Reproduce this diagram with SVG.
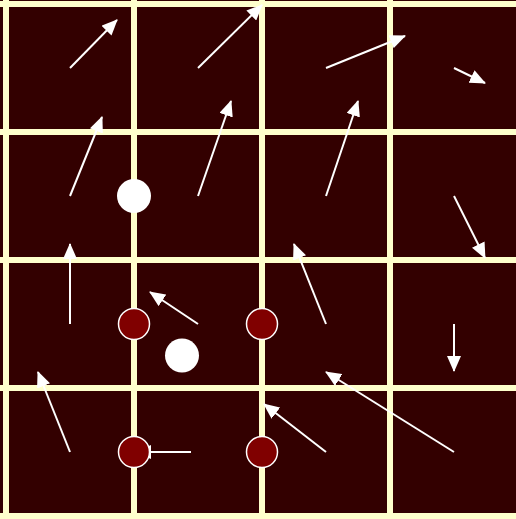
<svg xmlns="http://www.w3.org/2000/svg" width="516" height="519" viewBox="0 0 516 519">
<style>
.grid{stroke:#ffffcc;stroke-width:6;fill:none}
.arr{stroke:#ffffff;stroke-width:2;fill:none;marker-end:url(#ah)}
.white{fill:#ffffff}
.red{fill:#800000;stroke:#ffffff;stroke-width:1.5}
</style>
<defs>
<marker id="ah" markerUnits="userSpaceOnUse" markerWidth="16" markerHeight="14" refX="15" refY="7" orient="auto" viewBox="0 0 16 14">
<path d="M0,0 L16,7 L0,14 z" fill="#ffffff"/>
</marker>
</defs>
<rect width="516" height="519" fill="#330000"/>
<g id="grid" class="grid">
<line x1="6" y1="0" x2="6" y2="519"/>
<line x1="134" y1="0" x2="134" y2="519"/>
<line x1="262" y1="0" x2="262" y2="519"/>
<line x1="390" y1="0" x2="390" y2="519"/>
<line x1="0" y1="4" x2="516" y2="4"/>
<line x1="0" y1="132" x2="516" y2="132"/>
<line x1="0" y1="260" x2="516" y2="260"/>
<line x1="0" y1="388" x2="516" y2="388"/>
<line x1="0" y1="516" x2="516" y2="516"/>
</g>
<g id="connectors" class="arr">
<line x1="70" y1="68" x2="117" y2="20"/>
<line x1="198" y1="68" x2="262" y2="5"/>
<line x1="326" y1="68" x2="405" y2="36"/>
<line x1="454" y1="68" x2="485" y2="83"/>
<line x1="70" y1="196" x2="102" y2="117"/>
<line x1="198" y1="196" x2="231" y2="101"/>
<line x1="326" y1="196" x2="358" y2="101"/>
<line x1="454" y1="196" x2="485" y2="258"/>
<line x1="70" y1="324" x2="70" y2="244"/>
<line x1="198" y1="324" x2="150" y2="292"/>
<line x1="326" y1="324" x2="294" y2="244"/>
<line x1="454" y1="324" x2="454" y2="371"/>
<line x1="70" y1="452" x2="38" y2="372"/>
<line x1="191" y1="452" x2="136" y2="452"/>
<line x1="326" y1="452" x2="264" y2="404"/>
<line x1="454" y1="452" x2="326" y2="372"/>
</g>
<g id="node-white-1"><circle class="white" cx="134" cy="196" r="17"/></g>
<g id="node-white-2"><circle class="white" cx="182" cy="355.5" r="17"/></g>
<g id="node-red-1"><circle class="red" cx="134" cy="324" r="15.5"/></g>
<g id="node-red-2"><circle class="red" cx="262" cy="324" r="15.5"/></g>
<g id="node-red-3"><circle class="red" cx="134" cy="452" r="15.5"/></g>
<g id="node-red-4"><circle class="red" cx="262" cy="452" r="15.5"/></g>
</svg>
